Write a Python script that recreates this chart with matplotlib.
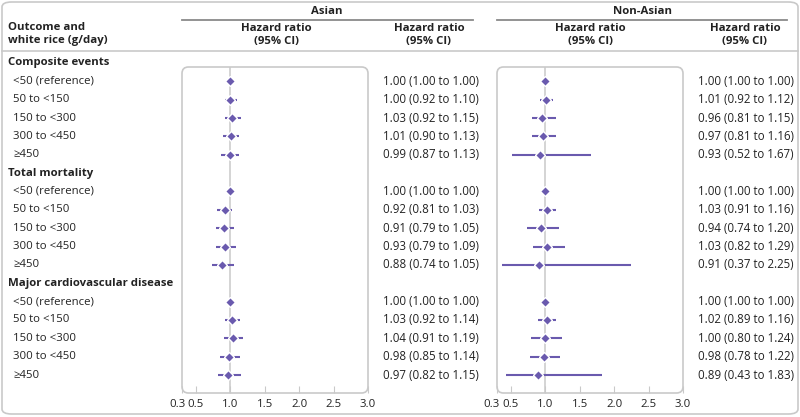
import numpy as np
import matplotlib
matplotlib.use("Agg")
import matplotlib.pyplot as plt
from matplotlib.patches import FancyBboxPatch
from matplotlib.lines import Line2D
import matplotlib.transforms as mtransforms

plt.rcParams['font.family'] = ['Open Sans', 'DejaVu Sans']

outcomes = ["Composite events", "Total mortality", "Major cardiovascular disease"]
categories = ["<50 (reference)", "50 to <150", "150 to <300", "300 to <450", "≥450"]

asian_hr = [[1.00, 1.00, 1.03, 1.01, 0.99],
            [1.00, 0.92, 0.91, 0.93, 0.88],
            [1.00, 1.03, 1.04, 0.98, 0.97]]
asian_lo = [[1.00, 0.92, 0.92, 0.90, 0.87],
            [1.00, 0.81, 0.79, 0.79, 0.74],
            [1.00, 0.92, 0.91, 0.85, 0.82]]
asian_hi = [[1.00, 1.10, 1.15, 1.13, 1.13],
            [1.00, 1.03, 1.05, 1.09, 1.05],
            [1.00, 1.14, 1.19, 1.14, 1.15]]

nonasian_hr = [[1.00, 1.01, 0.96, 0.97, 0.93],
               [1.00, 1.03, 0.94, 1.03, 0.91],
               [1.00, 1.02, 1.00, 0.98, 0.89]]
nonasian_lo = [[1.00, 0.92, 0.81, 0.81, 0.52],
               [1.00, 0.91, 0.74, 0.82, 0.37],
               [1.00, 0.89, 0.80, 0.78, 0.43]]
nonasian_hi = [[1.00, 1.12, 1.15, 1.16, 1.67],
               [1.00, 1.16, 1.20, 1.29, 2.25],
               [1.00, 1.16, 1.24, 1.22, 1.83]]

xticks = [0.3, 0.5, 1.0, 1.5, 2.0, 2.5, 3.0]

purple = "#6a5aae"
grey = "#c9c9c9"
txt = "#222222"
W, H = 800, 417

fig = plt.figure(figsize=(8, 4.17), dpi=100)

# outer rounded frame
fig.patches.append(FancyBboxPatch((2 / W, 3 / H), 796 / W, 412 / H,
                                  boxstyle="round,pad=0,rounding_size=0.012",
                                  transform=fig.transFigure, fill=False,
                                  edgecolor=grey, lw=1.2))
fig.add_artist(Line2D([2 / W, 798 / W], [1 - 51 / H] * 2, color=grey, lw=1.2))


def px(x, y):
    return x / W, 1 - y / H


def make_panel(x0, x1, hr, lo, hi, textx):
    ax = fig.add_axes([x0 / W, 1 - 393 / H, (x1 - x0) / W, 326 / H])
    ax.set_xlim(0.3, 3.0)
    ax.set_ylim(17.98, 0.22)
    for s in ax.spines.values():
        s.set_visible(False)
    ax.add_patch(FancyBboxPatch((0, 0), 1, 1, boxstyle="round,pad=0,rounding_size=0.035",
                                transform=ax.transAxes, fill=False, edgecolor=grey,
                                lw=1.2, mutation_aspect=186 / 326, clip_on=False))
    ax.axvline(1.0, color=grey, lw=1.1, zorder=1)
    ax.set_yticks([])
    ax.set_xticks(xticks)
    ax.set_xticklabels(["%.1f" % t for t in xticks])
    ax.tick_params(axis="x", direction="in", length=5, color=grey, labelsize=8.2,
                   labelcolor=txt, pad=4)
    lab = ax.get_xticklabels()[0]
    lab.set_transform(lab.get_transform() + mtransforms.ScaledTranslation(-5 / 100, 0, fig.dpi_scale_trans))
    tr = mtransforms.blended_transform_factory(fig.transFigure, ax.transData)
    row = 0
    for g in range(3):
        row += 1
        for i in range(5):
            ax.plot([lo[g][i], hi[g][i]], [row, row], color=purple, lw=1.5, zorder=2,
                    solid_capstyle="butt")
            ax.plot(hr[g][i], row, marker="D", ms=5.2, color=purple, mec="white",
                    mew=1.0, zorder=3)
            ax.text(textx / W, row, "%.2f (%.2f to %.2f)" % (hr[g][i], lo[g][i], hi[g][i]),
                    transform=tr, ha="left", va="center", fontsize=8.3, color=txt)
            row += 1
    return ax, tr


axL, trL = make_panel(182, 368, asian_hr, asian_lo, asian_hi, 383)
axR, trR = make_panel(497, 683, nonasian_hr, nonasian_lo, nonasian_hi, 698)

# left labels
row = 0
for g, name in enumerate(outcomes):
    axL.text(8 / W, row, name, transform=trL, ha="left", va="center", fontsize=8.2,
             fontweight="bold", color=txt)
    row += 1
    for c in categories:
        axL.text(13 / W, row, c, transform=trL, ha="left", va="center", fontsize=8.2,
                 color=txt)
        row += 1

# header
fig.text(*px(8, 34), "Outcome and\nwhite rice (g/day)", ha="left", va="center",
         fontsize=8.2, fontweight="bold", color=txt, linespacing=1.2)
fig.text(*px(327, 12), "Asian", ha="center", va="center", fontsize=8.2,
         fontweight="bold", color=txt)
fig.text(*px(642, 12), "Non-Asian", ha="center", va="center", fontsize=8.2,
         fontweight="bold", color=txt)
fig.add_artist(Line2D([182 / W, 473 / W], [1 - 20 / H] * 2, color="#8a8a8a", lw=1.3))
fig.add_artist(Line2D([497 / W, 787 / W], [1 - 20 / H] * 2, color="#8a8a8a", lw=1.3))
for cx in [276, 429, 590, 745]:
    fig.text(*px(cx, 35), "Hazard ratio\n(95% CI)", ha="center", va="center",
             fontsize=8.2, fontweight="bold", color=txt, linespacing=1.2)

fig.savefig("out.png", dpi=100)
